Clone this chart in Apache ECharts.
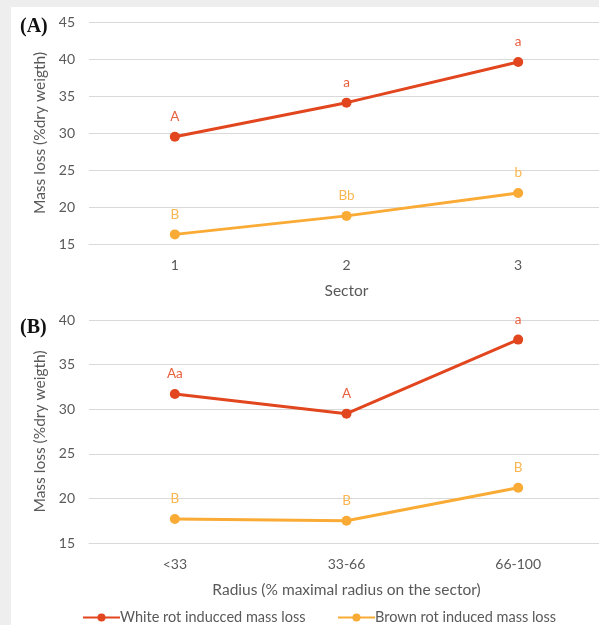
<!DOCTYPE html>
<html>
<head>
<meta charset="utf-8">
<script src="https://cdn.jsdelivr.net/npm/echarts@6/dist/echarts.min.js"></script>
<style>
html,body{margin:0;padding:0;background:#eeeeee;}
#bg{position:absolute;left:11px;top:7px;width:588px;height:618px;background:#ffffff;}
#chart{position:absolute;left:0;top:0;width:599px;height:625px;}
</style>
</head>
<body>
<div id="bg"></div>
<div id="chart"></div>
<script>
const sectors = ['1', '2', '3'];
const radii = ['<33', '33-66', '66-100'];
const whiteA = [29.5, 34.1, 39.6];
const brownA = [16.3, 18.8, 21.9];
const whiteB = [31.7, 29.5, 37.8];
const brownB = [17.7, 17.5, 21.2];
const whiteLabelsA = ['A', 'a', 'a'];
const brownLabelsA = ['B', 'Bb', 'b'];
const whiteLabelsB = ['Aa', 'A', 'a'];
const brownLabelsB = ['B', 'B', 'B'];
const seriesNames = ['White rot inducced mass loss', 'Brown rot induced mass loss'];

const RED = '#E2461E', ORANGE = '#F9AB36';
const RED_T = '#E8613F', ORANGE_T = '#F9B650';
const FONT = 'Lato';
const TXT = '#595959';

function mk(vals, labs){ return vals.map((v,i)=>({value:v, label:{formatter:labs[i]}})); }

function line(name, vals, labs, color, tcolor, idx){
  return {
    name: name, type: 'line', xAxisIndex: idx, yAxisIndex: idx,
    data: mk(vals, labs),
    symbol: 'circle', symbolSize: 10,
    lineStyle: {color: color, width: 3},
    itemStyle: {color: color},
    label: {show: true, position: 'top', distance: 8, color: tcolor, fontFamily: FONT, fontSize: 13.5},
    emphasis: {disabled: true},
    animation: false
  };
}

const xCommon = {
  type: 'category',
  axisLine: {show: true, lineStyle: {color: '#d9d9d9'}},
  axisTick: {show: false},
  axisLabel: {color: TXT, fontFamily: FONT, fontSize: 14, margin: 14},
  nameLocation: 'middle',
  nameTextStyle: {color: TXT, fontFamily: FONT, fontSize: 15.5}
};
const yCommon = {
  type: 'value', min: 15, interval: 5,
  axisLine: {show: false}, axisTick: {show: false},
  splitLine: {lineStyle: {color: '#d9d9d9', width: 1}},
  axisLabel: {color: TXT, fontFamily: FONT, fontSize: 14, margin: 14},
  name: 'Mass loss (%dry weigth)',
  nameLocation: 'middle', nameGap: 37,
  nameTextStyle: {color: TXT, fontFamily: FONT, fontSize: 15.5}
};

const chart = echarts.init(document.getElementById('chart'));
chart.setOption({
  animation: false,
  title: [
    {text: '(A)', left: 15, top: 12, textStyle: {fontFamily: 'Liberation Serif', fontWeight: 'bold', fontSize: 20, color: '#111'}},
    {text: '(B)', left: 15, top: 313, textStyle: {fontFamily: 'Liberation Serif', fontWeight: 'bold', fontSize: 20, color: '#111'}}
  ],
  grid: [
    {left: 89, width: 515, top: 22, height: 222, outerBoundsMode: 'none', containLabel: false},
    {left: 89, width: 515, top: 320, height: 223, outerBoundsMode: 'none', containLabel: false}
  ],
  xAxis: [
    Object.assign({}, xCommon, {gridIndex: 0, data: sectors, name: 'Sector', nameGap: 39}),
    Object.assign({}, xCommon, {gridIndex: 1, data: radii, name: 'Radius (% maximal radius on the sector)', nameGap: 39})
  ],
  yAxis: [
    Object.assign({}, yCommon, {gridIndex: 0, max: 45}),
    Object.assign({}, yCommon, {gridIndex: 1, max: 40})
  ],
  legend: [
    {data: [seriesNames[0]], left: 77, top: 605, itemWidth: 37, itemHeight: 10,
     textStyle: {color: TXT, fontFamily: FONT, fontSize: 14.5, padding: [0,0,0,-5]}},
    {data: [seriesNames[1]], left: 332, top: 605, itemWidth: 37, itemHeight: 10,
     textStyle: {color: TXT, fontFamily: FONT, fontSize: 14.5, padding: [0,0,0,-5]}}
  ],
  series: [
    line(seriesNames[0], whiteA, whiteLabelsA, RED, RED_T, 0),
    line(seriesNames[1], brownA, brownLabelsA, ORANGE, ORANGE_T, 0),
    line(seriesNames[0], whiteB, whiteLabelsB, RED, RED_T, 1),
    line(seriesNames[1], brownB, brownLabelsB, ORANGE, ORANGE_T, 1)
  ]
});
</script>
</body>
</html>
